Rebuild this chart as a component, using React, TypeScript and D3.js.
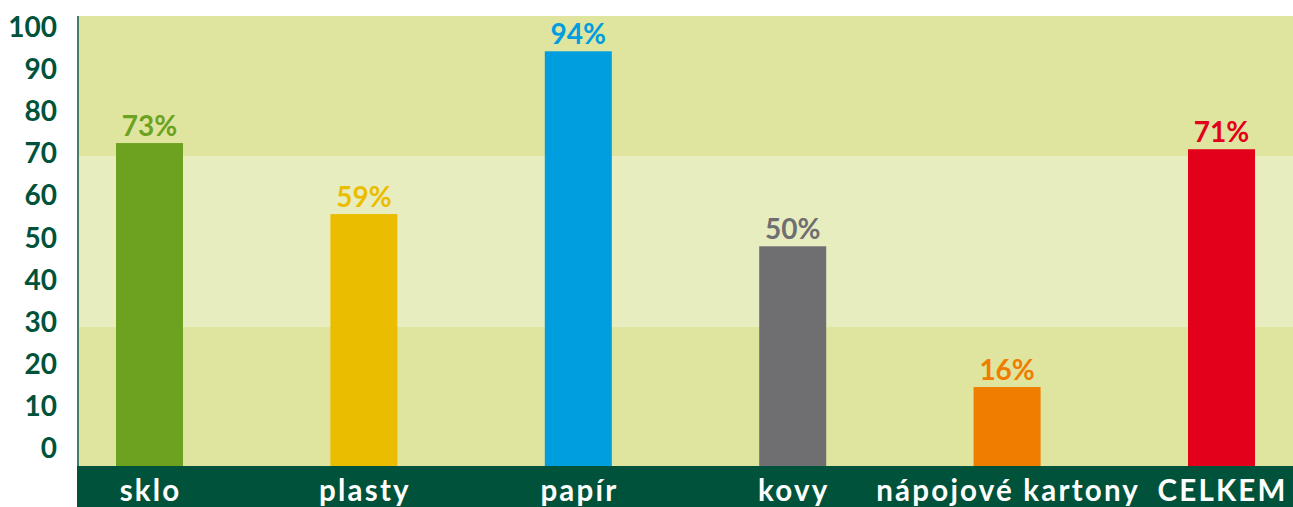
import React from 'react';
import * as d3 from 'd3';

const categories = ['sklo', 'plasty', 'papír', 'kovy', 'nápojové kartony', 'CELKEM'];
const values = [73.2, 57.1, 94, 49.8, 17.9, 71.8];
const valueLabels = ['73%', '59%', '94%', '50%', '16%', '71%'];
const barColors = ['#6ca21f', '#ebbd00', '#009ddf', '#6f6f71', '#ef7d00', '#e2001a'];
const tickValues = [0, 10, 20, 30, 40, 50, 60, 70, 80, 90, 100];
const bandBreaks = [0, 31.5, 70.2, 102];
const bandColors = ['#dfe59f', '#e8edbf', '#dfe59f'];

const W = 1293;
const H = 507;
const DARK = '#00533a';
const FONT = 'Lato, "Open Sans", sans-serif';

export default function App() {
  const plotLeft = 79;
  const plotBottom = 466;
  const y = d3.scaleLinear().domain([0, 102]).range([plotBottom, 16]);
  const yTick = d3.scaleLinear().domain([0, 100]).range([448, 27]);
  const x = d3.scalePoint<string>().domain(categories).range([149.5, 1221.5]).padding(0);
  const barW = 67;
  const ls = 2.2;

  return (
    <svg width={W} height={H} style={{ position: 'absolute', left: 0, top: 0, background: '#fff' }}>
      {bandColors.map((c, i) => (
        <rect key={i} x={plotLeft} width={W - plotLeft}
          y={y(bandBreaks[i + 1])} height={y(bandBreaks[i]) - y(bandBreaks[i + 1])} fill={c} />
      ))}
      <rect x={77} y={plotBottom} width={W - 77} height={H - plotBottom} fill={DARK} />
      <line x1={78} x2={78} y1={16} y2={H} stroke={DARK} strokeWidth={1.5} />
      {tickValues.map((t) => (
        <text key={t} x={57} y={yTick(t)} dy="0.36em" textAnchor="end"
          fontFamily={FONT} fontWeight={700} fontSize={28} fill={DARK}>{t}</text>
      ))}
      {categories.map((c, i) => (
        <g key={c}>
          <rect x={(x(c) as number) - barW / 2} width={barW} y={y(values[i])}
            height={plotBottom - y(values[i])} fill={barColors[i]} />
          <text x={x(c)} y={y(values[i]) - 7} textAnchor="middle" fontFamily={FONT}
            fontWeight={700} fontSize={28} fill={barColors[i]}>{valueLabels[i]}</text>
          <text x={(x(c) as number) + ls / 2} y={501} textAnchor="middle" fontFamily={FONT}
            fontWeight={700} fontSize={29.5} letterSpacing={ls} fill="#ffffff">{c}</text>
        </g>
      ))}
    </svg>
  );
}
